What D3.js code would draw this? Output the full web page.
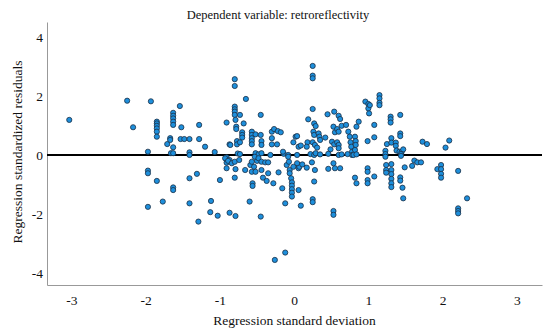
<!DOCTYPE html>
<html>
<head>
<meta charset="utf-8">
<script src="https://cdn.jsdelivr.net/npm/d3@7"></script>
<style>
  body { margin: 0; background: #fff; }
  text { font-family: "Liberation Serif", "Times New Roman", serif; fill: #111; }
</style>
</head>
<body>
<div id="chart"></div>
<script>
// Regression standard deviation (x) and standardized residuals (y)
const stdDev = [
  -3.03, -2.25, -1.93, -2.17, -1.97, -1.97, -1.97, -1.97,
  -1.85, -1.85, -1.85, -1.85, -1.85, -1.85, -1.85, -1.77,
  -1.71, -1.67, -1.67, -1.63, -1.66, -1.63,
  -1.63, -1.63, -1.63, -1.63, -1.63, -1.54, -1.52,
  -1.53, -1.48, -1.41, -1.41, -1.41, -1.28, -1.28, -1.20, -1.07,
  -0.91, -0.87, -0.91, -0.91, -0.91, -0.91, -0.87,
  -1.63, -1.63, -1.41, -1.31, -1.0, -1.41, -1.12, -1.13, -1.03, -0.87, -1.29,
  -0.80, -0.80, -0.65, -0.80, -0.80, -0.80, -0.80, -0.73,
  -0.79, -0.78, -0.78, -0.68, -0.70, -0.70, -0.70, -0.45,
  -0.57, -0.57, -0.57, -0.57, -0.57, -0.52, -0.45, -0.86, -0.77, -0.77, -0.73,
  -0.44, -0.44, -0.30, -0.27, -0.22, -0.18, -0.30, -0.30, -0.23,
  0.02, -0.01, 0.06,
  -0.76, -0.73, -0.52, -0.48, -0.44, -0.32, -0.14, -0.08, 0.04,
  -0.93, -0.89, -0.84, -0.80, -0.74, -0.79, -0.80, -0.66,
  -0.59, -0.57, -0.54, -0.50, -0.53, -0.48, -0.57, -0.52, -0.56, -0.56,
  -0.44, -0.39, -0.35, -0.44, -0.35, -0.42, -0.37, -0.28, -0.21, -0.16, -0.12,
  -0.06, -0.06, -0.04, -0.03, -0.03, -0.03, -0.03, -0.03,
  -0.10, -0.07, -0.01, 0.06, 0.06, 0.06, -0.60, -0.79, -0.45, -0.12, -0.26, 0.09,
  -0.15, -0.08,
  0.25, 0.25, 0.25, 0.25, 0.19, 0.27, 0.29, 0.04, 0.26, 0.27, 0.33, 0.34, 0.35, 0.42,
  0.18, 0.25, 0.09, 0.17, 0.28, 0.31, 0.45, 0.54, 0.60, 0.62,
  0.53, 0.55, 0.58, 0.60, 0.64, 0.70, 0.51, 0.54, 0.58, 0.60, 0.60, 0.49,
  0.73, 0.75, 0.76, 0.77, 0.78, 0.78, 0.82, 0.83, 0.83, 0.82, 0.84, 0.87,
  0.96, 1.00, 1.00, 1.01, 0.99, 0.99, 0.99, 0.99, 0.99, 0.82, 0.84,
  0.22, 0.27, 0.29, 0.35, 0.46, 0.60, 0.64, 0.72, 0.80, 0.84,
  0.07, 0.04, 0.11, 0.17, 0.24, 0.28, 0.27, 0.46, 0.55, 0.62, 0.53,
  0.25, 0.25, 0.53, 0.53,
  1.15, 1.15, 1.15, 1.15, 1.02, 1.08, 1.08, 1.30, 1.30, 1.30, 1.43, 1.43, 1.43,
  1.31, 1.25, 1.31, 1.37, 1.37, 1.38, 1.42, 1.45, 1.47,
  1.23, 1.23, 1.23, 1.44, 1.44, 1.73, 1.79, 1.62, 1.66, 1.71, 1.59, 1.49,
  1.31, 1.31, 1.31, 1.31, 1.31, 1.31, 1.24, 1.24, 1.24,
  1.43, 1.43, 1.46, 1.47, 1.08,
  1.93, 1.98, 1.98, 1.98, 1.98, 2.04, 2.09, 2.21, 2.33, 2.21, 2.21, 2.21
];
const residuals = [
  1.19, 1.84, 1.82, 0.94, 0.11, -0.53, -0.62, -1.76,
  1.13, 1.07, 0.99, 0.90, 0.79, 0.62, -0.88, -1.58,
  0.37, 0.57, 0.51, 0.26, 0.06, 0.06,
  1.43, 1.33, 1.24, 1.13, 1.02, 1.66, 0.94,
  0.54, 0.54, 0.54, 0.09, 0.0, 1.02, 0.54, 0.28, 0.10,
  1.10, 0.36, -0.08, -0.17, -0.26, -0.45, -0.17,
  -1.10, -1.19, -0.79, -0.64, -0.85, -1.64, -1.56, -1.94, -2.06, -1.96, -2.26,
  2.57, 2.34, 1.90, 1.64, 1.55, 1.47, 1.36, 1.36,
  1.19, 0.96, 0.88, 1.07, 0.77, 0.68, 0.59, 1.36,
  0.79, 0.68, 0.57, 0.47, 0.36, 0.70, 0.68, 0.34, 0.47, 0.36, 0.43,
  0.47, 0.34, 0.79, 0.88, 0.81, 0.77, 0.57, 0.36, 0.36,
  0.62, 0.43, 0.28,
  0.05, 0.03, 0.06, 0.02, 0.06, 0.0, 0.04, 0.0, 0.0,
  -0.11, -0.20, -0.28, -0.23, -0.17, -0.48, -0.77, -0.51,
  -0.34, -0.23, -0.40, -0.20, -0.06, -0.11, -0.57, -0.57, -0.96, -1.05,
  -0.23, -0.25, -0.25, -0.51, -0.62, -0.77, -0.88, -0.96, -0.59, -1.13, -1.64,
  -0.51, -0.62, -0.79, -0.93, -1.04, -1.16, -1.28, -1.41,
  -0.34, -0.23, -0.40, -0.34, -0.45, -1.19, -1.58, -2.07, -2.09, -3.31, -3.56, -1.72,
  0.11, -0.06,
  3.02, 2.69, 2.60, 1.56, 1.21, 1.07, 0.98, 0.64, 0.79, 0.68, 0.73, 0.62, 0.51, 0.59,
  0.43, 0.43, 0.32, 0.28, 0.34, 0.25, 1.38, 1.47, 1.33, 1.22,
  0.96, 0.77, 0.88, 0.79, 0.99, 1.02, 0.45, 0.36, 0.43, 0.34, 0.23, 0.19,
  0.79, 0.62, 0.43, 0.28, 0.11, 0.0, 0.62, 0.47, 0.34, 0.17, 0.96, 1.13,
  1.81, 1.73, 1.58, 1.41, 0.47, -0.45, -0.57, -0.85, -0.96, -0.77, -0.96,
  0.03, 0.0, 0.06, 0.02, 0.04, 0.0, 0.02, 0.03, 0.0, 0.02,
  -0.40, -0.28, -0.32, -0.43, -0.25, -0.51, -0.90, -0.47, -0.45, -0.45, -0.28,
  -1.50, -1.60, -1.90, -2.03,
  2.03, 1.92, 1.77, 1.69, 1.69, 1.02, 0.60, 1.30, 1.21, 1.10, 1.36, 0.73, 0.64,
  0.57, 0.37, 0.42, 0.42, 0.31, 0.15, 0.11, 0.11, 0.19,
  0.14, 0.03, -0.06, 0.03, -0.03, 0.45, 0.37, -0.19, -0.25, -0.25, -0.37, -0.42,
  -0.31, -0.51, -0.65, -0.81, -0.96, -1.09, -0.34, -0.51, -0.60,
  -0.76, -0.87, -1.11, -1.47, -0.73,
  -0.48, -0.34, -0.48, -0.64, -0.77, 0.25, 0.49, -0.54, -1.47, -1.81, -1.90, -1.98
];
const xTicks = [-3, -2, -1, 0, 1, 2, 3];
const yTicks = [-4, -2, 0, 2, 4];

const width = 550;
const height = 333;
const margin = { top: 22, right: 8, bottom: 48, left: 47 };
const serif = '"Liberation Serif", "Times New Roman", serif';

const svg = d3
  .select("#chart")
  .append("svg")
  .attr("width", width)
  .attr("height", height);

const x = d3
  .scaleLinear()
  .domain([-3.33, 3.34])
  .range([margin.left, width - margin.right]);

const y = d3
  .scaleLinear()
  .domain([-4.41, 4.51])
  .range([height - margin.bottom, margin.top]);

// plain hyphen labels like the original, not the unicode minus
const tickText = (d) => String(d);

// Axes: plain gray lines, labels only
svg
  .append("g")
  .attr("transform", `translate(0,${height - margin.bottom})`)
  .call(d3.axisBottom(x).tickValues(xTicks).tickSize(0).tickPadding(10).tickFormat(tickText))
  .call((g) => g.select(".domain").attr("stroke", "#999"))
  .attr("font-family", serif)
  .attr("font-size", 13.5)
  .selectAll("text")
  .style("font-family", serif)
  .style("font-size", "13.5px");

svg
  .append("g")
  .attr("transform", `translate(${margin.left},0)`)
  .call(d3.axisLeft(y).tickValues(yTicks).tickSize(0).tickPadding(4).tickFormat(tickText))
  .call((g) => g.select(".domain").attr("stroke", "#999"))
  .attr("font-family", serif)
  .attr("font-size", 13.5)
  .selectAll("text")
  .style("font-family", serif)
  .style("font-size", "13.5px");

// Reference line at zero
svg
  .append("line")
  .attr("x1", x.range()[0])
  .attr("x2", x.range()[1])
  .attr("y1", y(0))
  .attr("y2", y(0))
  .attr("stroke", "#000")
  .attr("stroke-width", 2);

// Points
const points = stdDev.map((d, i) => ({ x: d, y: residuals[i] }));

svg
  .append("g")
  .selectAll("circle")
  .data(points)
  .enter()
  .append("circle")
  .attr("cx", (d) => x(d.x))
  .attr("cy", (d) => y(d.y))
  .attr("r", 2.6)
  .attr("fill", "#1d8fdc")
  .attr("stroke", "#1c2f44")
  .attr("stroke-width", 0.8);

// Titles
svg
  .append("text")
  .attr("x", 278)
  .attr("y", 19)
  .attr("text-anchor", "middle")
  .style("font-size", "12.5px")
  .text("Dependent variable: retroreflectivity");

svg
  .append("text")
  .attr("x", (margin.left + width - margin.right) / 2)
  .attr("y", 325)
  .attr("text-anchor", "middle")
  .style("font-size", "13.5px")
  .text("Regression standard deviation");

svg
  .append("text")
  .attr("transform", "rotate(-90)")
  .attr("x", -152)
  .attr("y", 22)
  .attr("text-anchor", "middle")
  .style("font-size", "13.5px")
  .text("Regression standardized residuals");
</script>
</body>
</html>
